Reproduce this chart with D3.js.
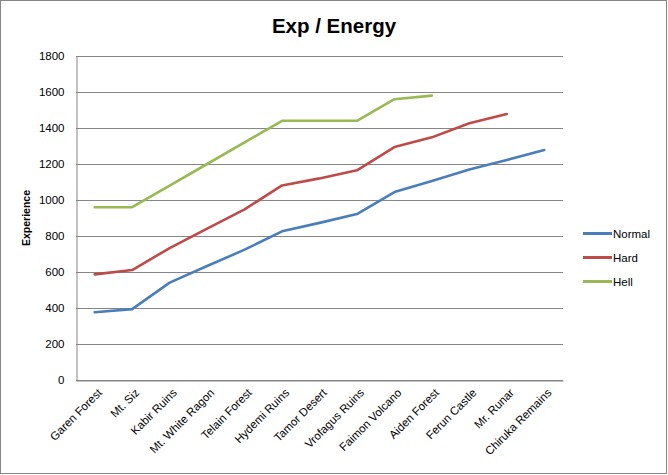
<!DOCTYPE html>
<html>
<head>
<meta charset="utf-8">
<script src="https://cdn.jsdelivr.net/npm/d3@7"></script>
<style>
  body { margin: 0; background: #fff; }
  svg text { font-family: "Liberation Sans", Arial, sans-serif; fill: #000; }
</style>
</head>
<body>
<div id="chart"></div>
<script>
// 地图名称（横轴）
const categories = [
  "Garen Forest", "Mt. Siz", "Kabir Ruins", "Mt. White Ragon", "Telain Forest",
  "Hydemi Ruins", "Tamor Desert", "Vrofagus Ruins", "Faimon Volcano", "Aiden Forest",
  "Ferun Castle", "Mr. Runar", "Chiruka Remains"
];

// 各难度的经验/体力值（null 表示没有数据）
const normalValues = [376, 394, 541, 633, 724, 826, 873, 922, 1044, 1106, 1170, 1222, 1278];
const hardValues = [587, 611, 733, 841, 948, 1081, 1120, 1165, 1294, 1348, 1426, 1478, null];
const hellValues = [960, 960, 1080, 1200, 1320, 1440, 1440, 1440, 1560, 1580, null, null, null];

const seriesNames = ["Normal", "Hard", "Hell"];
const yTicks = [0, 200, 400, 600, 800, 1000, 1200, 1400, 1600, 1800];

const width = 668;
const height = 475;
const margin = { top: 56, right: 105, bottom: 95, left: 76 };
const colors = ["#4A7EBB", "#BE4B48", "#98B954"];

const svg = d3.select("#chart")
  .append("svg")
  .attr("width", width)
  .attr("height", height);

// 外边框
svg.append("rect")
  .attr("x", 0.5)
  .attr("y", 0.5)
  .attr("width", 666)
  .attr("height", 473)
  .attr("fill", "#fff")
  .attr("stroke", "#868686");

const x = d3.scaleBand()
  .domain(categories)
  .range([margin.left, width - margin.right]);

const y = d3.scaleLinear()
  .domain([0, 1800])
  .range([height - margin.bottom, margin.top]);

// 网格线
svg.append("g")
  .selectAll("line")
  .data(yTicks)
  .join("line")
  .attr("x1", margin.left)
  .attr("x2", width - margin.right)
  .attr("y1", d => Math.round(y(d)) + 0.5)
  .attr("y2", d => Math.round(y(d)) + 0.5)
  .attr("stroke", "#868686");

// 纵轴
const yAxis = svg.append("g")
  .attr("transform", `translate(${margin.left + 0.5},0)`)
  .call(d3.axisLeft(y).tickValues(yTicks).tickFormat(d3.format("d")).tickSize(0).tickPadding(12));
yAxis.select(".domain").attr("stroke", "#868686");
yAxis.selectAll("text")
  .style("font-size", "11.5px");

// 横轴
const xAxis = svg.append("g")
  .attr("transform", `translate(0,${Math.round(y(0)) + 0.5})`)
  .call(d3.axisBottom(x).tickSize(0));
xAxis.select(".domain").attr("stroke", "#868686");
xAxis.selectAll("text")
  .style("font-size", "11.5px")
  .attr("text-anchor", "end")
  .attr("dy", "0.35em")
  .attr("transform", "translate(3,8) rotate(-45)");

// 纵轴标题
svg.append("text")
  .attr("transform", `translate(30,${(margin.top + height - margin.bottom) / 2}) rotate(-90)`)
  .attr("text-anchor", "middle")
  .style("font-size", "10.5px")
  .style("font-weight", "bold")
  .text("Experience");

// 标题
svg.append("text")
  .attr("x", 334)
  .attr("y", 33)
  .attr("text-anchor", "middle")
  .style("font-size", "20.5px")
  .style("font-weight", "bold")
  .text("Exp / Energy");

// 折线
const line = d3.line()
  .defined(d => d.value !== null)
  .x(d => x(d.name) + x.bandwidth() / 2)
  .y(d => y(d.value));

const series = [normalValues, hardValues, hellValues].map((vals, i) => ({
  name: seriesNames[i],
  points: categories.map((c, j) => ({ name: c, value: vals[j] }))
}));

svg.append("g")
  .selectAll("path")
  .data(series)
  .join("path")
  .attr("fill", "none")
  .attr("stroke", (d, i) => colors[i])
  .attr("stroke-width", 2.6)
  .attr("stroke-linejoin", "round")
  .attr("stroke-linecap", "round")
  .attr("d", d => line(d.points));

// 图例
const legend = svg.append("g")
  .selectAll("g")
  .data(seriesNames)
  .join("g")
  .attr("transform", (d, i) => `translate(583,${233.5 + i * 24})`);

legend.append("line")
  .attr("x1", 0)
  .attr("x2", 29)
  .attr("stroke", (d, i) => colors[i])
  .attr("stroke-width", 3);

legend.append("text")
  .attr("x", 30)
  .attr("dy", "0.35em")
  .style("font-size", "11.5px")
  .text(d => d);
</script>
</body>
</html>
